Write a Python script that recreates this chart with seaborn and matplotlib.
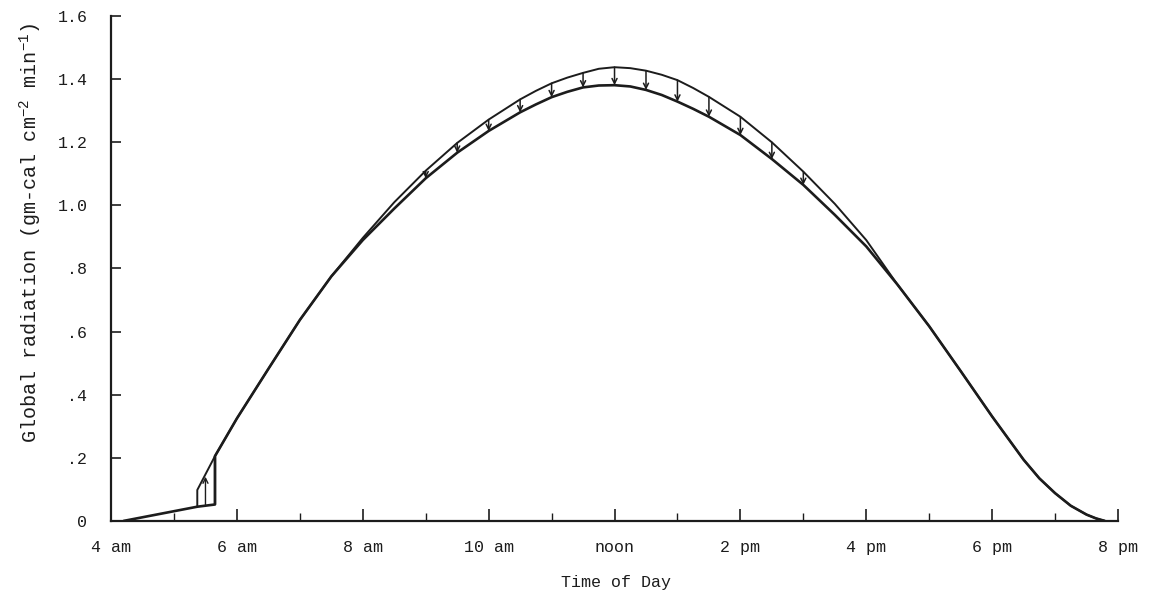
import matplotlib
matplotlib.use("Agg")
import matplotlib.pyplot as plt
import numpy as np
import pandas as pd
import seaborn as sns

# Hours of the day (decimal) and global radiation, gm-cal cm^-2 min^-1
potential_hours = [5.37, 5.37, 5.65, 6.0, 6.5, 7.0, 7.5, 8.0, 8.5, 9.0, 9.5, 10.0, 10.5,
                   10.75, 11.0, 11.25, 11.5, 11.75, 12.0, 12.25, 12.5, 12.75, 13.0, 13.25,
                   13.5, 14.0, 14.5, 15.0, 15.5, 16.0, 16.5, 17.0, 17.5, 18.0, 18.5,
                   18.75, 19.0, 19.25, 19.5, 19.65, 19.79]
potential_values = [0.045, 0.098, 0.205, 0.325, 0.482, 0.637, 0.775, 0.897, 1.01, 1.11,
                    1.198, 1.272, 1.336, 1.363, 1.387, 1.405, 1.420, 1.433, 1.438, 1.435,
                    1.427, 1.414, 1.397, 1.372, 1.344, 1.281, 1.200, 1.107, 1.005, 0.89,
                    0.748, 0.617, 0.475, 0.331, 0.194, 0.135, 0.088, 0.048, 0.020, 0.008, 0.0]

observed_hours = [4.2, 5.37, 5.65, 5.65, 6.0, 6.5, 7.0, 7.5, 8.0, 8.5, 9.0, 9.5, 10.0,
                  10.5, 10.75, 11.0, 11.25, 11.5, 11.75, 12.0, 12.25, 12.5, 12.75, 13.0,
                  13.25, 13.5, 14.0, 14.5, 15.0, 15.5, 16.0, 16.5, 17.0, 17.5, 18.0, 18.5,
                  18.75, 19.0, 19.25, 19.5, 19.65, 19.79]
observed_values = [0.0, 0.045, 0.052, 0.205, 0.325, 0.482, 0.637, 0.775, 0.89, 0.99, 1.086,
                   1.167, 1.236, 1.295, 1.320, 1.343, 1.360, 1.374, 1.380, 1.381, 1.377,
                   1.366, 1.350, 1.329, 1.306, 1.281, 1.223, 1.147, 1.065, 0.97, 0.87,
                   0.748, 0.617, 0.475, 0.331, 0.194, 0.135, 0.088, 0.048, 0.020, 0.008, 0.0]

# Half-hourly reductions marked with downward arrows
arrow_hours = [9.0, 9.5, 10.0, 10.5, 11.0, 11.5, 12.0, 12.5, 13.0, 13.5, 14.0, 14.5, 15.0]
# Early-morning correction marked with an upward arrow
dawn_arrow_hour = 5.5
dawn_arrow_from = 0.05
dawn_arrow_to = 0.14

x_tick_hours = [4, 6, 8, 10, 12, 14, 16, 18, 20]
x_tick_labels = ["4 am", "6 am", "8 am", "10 am", "noon", "2 pm", "4 pm", "6 pm", "8 pm"]
y_ticks = [0, 0.2, 0.4, 0.6, 0.8, 1.0, 1.2, 1.4, 1.6]
y_tick_labels = ["0", ".2", ".4", ".6", ".8", "1.0", "1.2", "1.4", "1.6"]

sns.set_theme(style="ticks")
plt.rcParams["font.family"] = ["Liberation Mono", "DejaVu Sans Mono"]
plt.rcParams["mathtext.fontset"] = "custom"
plt.rcParams["mathtext.rm"] = "Liberation Mono"
plt.rcParams["mathtext.it"] = "Liberation Mono"

ink = "#1c1c1c"

fig = plt.figure(figsize=(11.57, 5.96), dpi=100, facecolor="white")
ax = fig.add_axes([0.096, 0.126, 0.873, 0.847])
ax.set_facecolor("white")

pot = pd.DataFrame({"hour": potential_hours, "rad": potential_values})
obs = pd.DataFrame({"hour": observed_hours, "rad": observed_values})

sns.lineplot(data=pot, x="hour", y="rad", estimator=None, sort=False,
             color=ink, linewidth=1.4, ax=ax)
sns.lineplot(data=obs, x="hour", y="rad", estimator=None, sort=False,
             color=ink, linewidth=1.9, ax=ax)

# Downward arrows from the upper to the lower curve
for h in arrow_hours:
    top = potential_values[potential_hours.index(h)]
    bottom = observed_values[observed_hours.index(h)]
    ax.annotate("", xy=(h, bottom), xytext=(h, top),
                arrowprops=dict(arrowstyle="->", color=ink, lw=1.1,
                                mutation_scale=9, shrinkA=0, shrinkB=0))

# Closing line and upward arrow of the dawn correction
ax.plot([5.65, 5.65], [observed_values[2], observed_values[3]], color=ink, lw=1.0)
ax.annotate("", xy=(dawn_arrow_hour, dawn_arrow_to), xytext=(dawn_arrow_hour, dawn_arrow_from),
            arrowprops=dict(arrowstyle="->", color=ink, lw=1.0,
                            mutation_scale=9, shrinkA=0, shrinkB=0))

ax.set_xlim(4, 20.05)
ax.set_ylim(0, 1.6)
ax.set_xticks(x_tick_hours)
ax.set_xticklabels(x_tick_labels)
ax.set_xticks(np.arange(5, 20, 2), minor=True)
ax.set_yticks(y_ticks)
ax.set_yticklabels(y_tick_labels)

ax.tick_params(axis="x", which="major", direction="in", length=9, width=1.2,
               pad=14, labelsize=12, colors=ink)
ax.tick_params(axis="x", which="minor", direction="in", length=6, width=1.0, colors=ink)
ax.tick_params(axis="y", which="major", direction="in", length=7.5, width=1.2,
               pad=17, labelsize=12, colors=ink)

for side in ["top", "right"]:
    ax.spines[side].set_visible(False)
for side in ["left", "bottom"]:
    ax.spines[side].set_linewidth(1.6)
    ax.spines[side].set_color(ink)
ax.spines["bottom"].set_bounds(4, 20)

ax.set_xlabel("Time of Day", fontsize=12, color=ink)
ax.xaxis.set_label_coords(0.5, -0.108)
ax.set_ylabel(r"Global radiation (gm-cal cm$^{-2}$ min$^{-1}$)", fontsize=14.5, color=ink)
ax.yaxis.set_label_coords(-0.066, 0.57)

fig.savefig("out.png", dpi=100, facecolor="white")
